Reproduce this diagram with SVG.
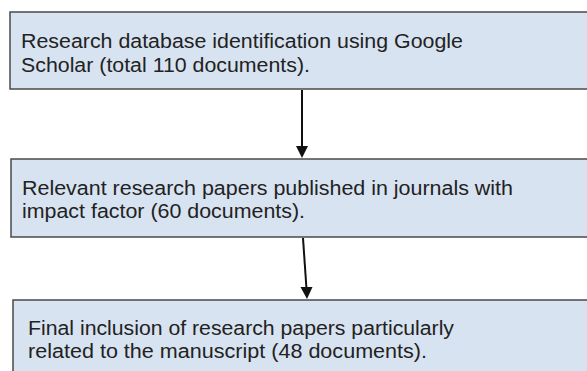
<svg xmlns="http://www.w3.org/2000/svg" width="587" height="371" viewBox="0 0 587 371">
<defs>
<style>
.box{fill:#d8e3f1;stroke:#4a4a4a;stroke-width:1.5}
.t{font-family:"Liberation Sans",Arial,sans-serif;font-size:20px;fill:#222}
.c{stroke:#111;stroke-width:2;fill:none}
</style>
</defs>
<rect width="587" height="371" fill="#fff"/>
<g id="connectors">
<line class="c" x1="302" y1="90" x2="302" y2="148"/>
<path d="M296,146 L308,146 L302,158 Z" fill="#111"/>
<line class="c" x1="303" y1="238" x2="306.5" y2="289"/>
<path d="M300.5,287 L312.5,287 L307,299 Z" fill="#111"/>
</g>
<g id="node1">
<rect class="box" x="10" y="12" width="600" height="77"/>
<text class="t" x="21" y="48" textLength="442" lengthAdjust="spacingAndGlyphs">Research database identification using Google</text>
<text class="t" x="21" y="72" textLength="289" lengthAdjust="spacingAndGlyphs">Scholar (total 110 documents).</text>
</g>
<g id="node2">
<rect class="box" x="11" y="159" width="600" height="78"/>
<text class="t" x="22" y="195" textLength="491" lengthAdjust="spacingAndGlyphs">Relevant research papers published in journals with</text>
<text class="t" x="22" y="218" textLength="283" lengthAdjust="spacingAndGlyphs">impact factor (60 documents).</text>
</g>
<g id="node3">
<rect class="box" x="13" y="300" width="600" height="90"/>
<text class="t" x="28" y="335" textLength="426" lengthAdjust="spacingAndGlyphs">Final inclusion of research papers particularly</text>
<text class="t" x="28" y="358" textLength="399" lengthAdjust="spacingAndGlyphs">related to the manuscript (48 documents).</text>
</g>
</svg>
